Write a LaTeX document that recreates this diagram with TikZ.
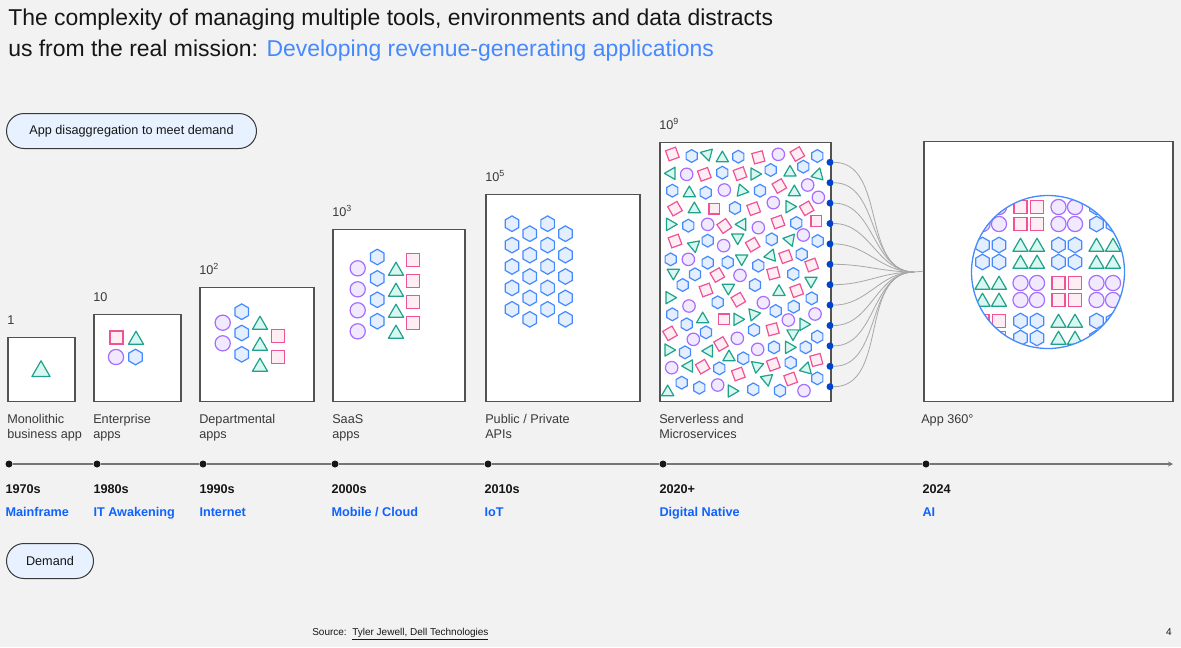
\documentclass[tikz,border=0pt]{standalone}
\usepackage{fontspec}
\setmainfont{Liberation Sans}
\usetikzlibrary{arrows.meta, positioning}

\newdimen\pxu \pxu=0.75pt

\definecolor{pagebg}{HTML}{F2F2F2}
\definecolor{ink}{HTML}{161616}
\definecolor{textgray}{HTML}{393939}
\definecolor{framegray}{HTML}{525252}
\definecolor{pillfill}{HTML}{E8F1FF}
\definecolor{headblue}{HTML}{4589FF}
\definecolor{erablue}{HTML}{0F62FE}
\definecolor{portblue}{HTML}{0043CE}
\definecolor{wiregray}{HTML}{A8A8A8}
\definecolor{tealline}{HTML}{1FA18C}
\definecolor{tealfill}{HTML}{D9F7F1}
\definecolor{pinkline}{HTML}{EE5396}
\definecolor{pinkfill}{HTML}{FFEDF4}
\definecolor{violetline}{HTML}{A56EFF}
\definecolor{violetfill}{HTML}{F1EAFF}
\definecolor{hexline}{HTML}{4589FF}
\definecolor{hexfill}{HTML}{E3EEFF}

% app icons
\tikzset{
  tr/.pic={\draw[draw=tealline, fill=tealfill, line width=1.2\pxu, line join=round] (0,-6.8) -- (7.5,6.2) -- (-7.5,6.2) -- cycle;},
  sq/.pic={\draw[draw=pinkline, fill=pinkfill, line width=1.2\pxu] (-6.5,-6.5) rectangle (6.5,6.5);},
  ci/.pic={\draw[draw=violetline, fill=violetfill, line width=1.2\pxu] (0,0) circle (7.6);},
  hx/.pic={\draw[draw=hexline, fill=hexfill, line width=1.2\pxu] (90:7.8) -- (150:7.8) -- (210:7.8) -- (270:7.8) -- (330:7.8) -- (30:7.8) -- cycle;}
}

\begin{document}
\begin{tikzpicture}[
    x=0.75pt, y=-0.75pt,
    appbox/.style={rectangle, draw=framegray, line width=1.5\pxu, fill=white, inner sep=0pt, anchor=south west},
    pill/.style={rectangle, rounded corners=17.5\pxu, draw=textgray, line width=1\pxu, fill=pillfill, minimum height=35\pxu, font=\fontsize{9.5}{11}\selectfont, text=ink, anchor=north west},
    count/.style={anchor=south west, inner sep=0pt, font=\fontsize{9.5}{11}\selectfont, text=textgray},
    caption/.style={anchor=north west, inner sep=0pt, align=left, font=\fontsize{9.5}{11.25}\selectfont, text=textgray},
    tick/.style={circle, fill=ink, inner sep=0pt, minimum size=7\pxu},
    port/.style={circle, fill=portblue, inner sep=0pt, minimum size=7\pxu},
    year/.style={anchor=base west, inner sep=0pt, font=\fontsize{9.5}{11}\selectfont\bfseries, text=ink},
    era/.style={anchor=base west, inner sep=0pt, font=\fontsize{9.5}{11}\selectfont\bfseries, text=erablue},
    axis/.style={draw=framegray!80, line width=1.5\pxu},
    wire/.style={draw=wiregray, line width=0.8\pxu},
    swarm/.style={scale=0.82}
]
\fill[pagebg] (0,0) rectangle (1181,647);
\useasboundingbox (0,0) rectangle (1181,647);

\node[anchor=north west, inner sep=0pt, align=left, font=\fontsize{17.2}{23.25}\selectfont, text=ink] (title) at (8,9)
  {The complexity of managing multiple tools, environments and data distracts\\us from the real mission: \textcolor{headblue}{Developing revenue-generating applications}};

\node[pill, minimum width=250\pxu] (disagg) at (6,113) {App disaggregation to meet demand};
\node[pill, minimum width=87\pxu] (demand) at (6,543) {Demand};

% boxes
\node[appbox, minimum width=67\pxu, minimum height=64\pxu] (mono) at (7,402) {};
\node[appbox, minimum width=87\pxu, minimum height=87\pxu] (ent) at (93,402) {};
\node[appbox, minimum width=114\pxu, minimum height=114\pxu] (dept) at (199,402) {};
\node[appbox, minimum width=132\pxu, minimum height=172\pxu] (saas) at (332,402) {};
\node[appbox, minimum width=154\pxu, minimum height=207\pxu] (apis) at (485,402) {};
\node[appbox, minimum width=171\pxu, minimum height=259\pxu] (svls) at (659,402) {};
\node[appbox, minimum width=249\pxu, minimum height=260\pxu] (app360) at (923,402) {};

\node[count] (n1) at ([yshift=12\pxu]mono.north west) {1};
\node[count] (n2) at ([yshift=12\pxu]ent.north west) {10};
\node[count] (n3) at ([yshift=12\pxu]dept.north west) {10\textsuperscript{2}};
\node[count] (n4) at ([yshift=12\pxu]saas.north west) {10\textsuperscript{3}};
\node[count] (n5) at ([yshift=12\pxu]apis.north west) {10\textsuperscript{5}};
\node[count] (n6) at ([yshift=12\pxu]svls.north west) {10\textsuperscript{9}};

\node[caption] (c1) at ([yshift=-12\pxu]mono.south west) {Monolithic\\business app};
\node[caption] (c2) at ([yshift=-12\pxu]ent.south west) {Enterprise\\apps};
\node[caption] (c3) at ([yshift=-12\pxu]dept.south west) {Departmental\\apps};
\node[caption] (c4) at ([yshift=-12\pxu]saas.south west) {SaaS\\apps};
\node[caption] (c5) at ([yshift=-12\pxu]apis.south west) {Public / Private\\APIs};
\node[caption] (c6) at ([yshift=-12\pxu]svls.south west) {Serverless and\\Microservices};
\node[caption] (c7) at ([yshift=-12\pxu,xshift=-2\pxu]app360.south west) {App 360°};

% icons
\pic[scale=1.2] at (41,369) {tr};
\pic at (116.5,337.5) {sq};
\pic at (136,338) {tr};
\pic at (116,357) {ci};
\pic at (135.5,357) {hx};

\foreach \b in {322.7,343.3} \pic at (222.7,\b) {ci};
\foreach \b in {311.7,333,354.3} \pic at (241.7,\b) {hx};
\foreach \b in {323,344,365} \pic at (260,\b) {tr};
\foreach \b in {336,356.7} \pic at (277.7,\b) {sq};

\foreach \k in {0,...,3} {
  \pic at (357.7,{268.3+21*\k}) {ci};
  \pic at (377.3,{257+21.4*\k}) {hx};
  \pic at (396,{269+21*\k}) {tr};
  \pic at (413.3,{260+21*\k}) {sq};
}

\foreach \c in {0,...,3}
  \foreach \k in {0,...,4}
    \pic at ({512+17.8*\c},{223.7+10*mod(\c,2)+21.4*\k}) {hx};

% serverless: scattered icons
\foreach \a/\b/\r in {52/132/20, 310/142/15, 427/132/30, 148/193/20, 255/191/20, 373/228/30, 60/296/30, 178/296/0,
    296/296/20, 455/295/30, 484/333/0, 208/348/35, 369/336/20, 60/393/20, 293/404/30, 392/440/20, 470/465/20,
    187/495/30, 355/490/15, 153/540/20, 425/542/20, 250/569/30, 207/628/0, 45/670/30, 198/702/30, 353/658/15,
    484/750/15, 143/770/30, 250/792/20, 355/763/20, 407/807/20}
  \pic[swarm, rotate=\r] at ({655+\a/3},{110+\b/3}) {sq};
\foreach \a/\b in {110/138, 250/140, 487/138, 202/188, 347/180, 445/170, 52/242, 152/248, 315/242, 240/294,
    100/347, 424/339, 158/392, 350/388, 488/393, 47/448, 158/458, 218/457, 440/433, 310/467, 120/493, 415/492,
    83/525, 300/525, 188/577, 470/565, 52/613, 95/643, 362/603, 416/590, 153/667, 297/660, 487/680, 90/727,
    265/745, 357/712, 452/712, 193/775, 407/758, 80/818, 133/833, 295/838, 375/842, 487/805}
  \pic[swarm] at ({655+\a/3},{110+\b/3}) {hx};
\foreach \a/\b in {370/133, 95/193, 208/240, 458/225, 490/262, 355/278, 158/343, 310/353, 206/407, 445/375,
    100/448, 255/496, 325/578, 102/588, 400/630, 480/612, 115/688, 247/685, 308/718, 50/773, 188/825, 447/842}
  \pic[swarm] at ({655+\a/3},{110+\b/3}) {ci};
\foreach \a/\b/\r in {158/137/195, 202/140/0, 45/190/90, 303/192/-90, 405/183/0, 490/190/-15, 103/245/0,
    265/243/-100, 418/242/0, 118/293/0, 408/290/-90, 50/343/-90, 257/343/90, 113/405/70, 248/387/180,
    400/388/80, 260/450/180, 343/438/100, 55/493/180, 220/538/180, 468/517/180, 372/541/0, 48/563/-90,
    143/623/0, 252/628/-90, 300/612/-80, 410/668/60, 450/643/-90, 45/720/-90, 157/723/90, 222/737/0,
    407/712/-90, 97/768/90, 305/773/170, 455/772/-15, 38/842/0, 235/843/-90, 337/812/190}
  \pic[swarm, rotate=\r] at ({655+\a/3},{110+\b/3}) {tr};

% fan-in
\coordinate (hub) at (914,272);
\foreach \i in {1,...,12} {
  \node[port] (p\i) at (830,{162.3+(\i-1)*20.4}) {};
  \draw[wire] (p\i) to[out=0, in=180] (hub);
}
\draw[wire] (hub) -- (app360.west);

% app 360
\begin{scope}
  \clip (1048,272) circle (76.5);
  \foreach \a/\b in {982.5/207, 1058.5/207, 1020.5/283, 1096.5/283}
    \foreach \i in {0,1} \foreach \j in {0,1} \pic at ({\a+16.5*\i},{\b+17*\j}) {ci};
  \foreach \a/\b in {1020.5/207, 1058.5/283, 982.5/321}
    \foreach \i in {0,1} \foreach \j in {0,1} \pic at ({\a+16.5*\i},{\b+17*\j}) {sq};
  \foreach \a/\b in {1096.5/207, 982.5/245, 1058.5/245, 1020.5/321, 1096.5/321}
    \foreach \i in {0,1} \foreach \j in {0,1} \pic at ({\a+16.5*\i},{\b+17*\j}) {hx};
  \foreach \a/\b in {1020.5/245, 1096.5/245, 982.5/283, 1058.5/321}
    \foreach \i in {0,1} \foreach \j in {0,1} \pic at ({\a+16.5*\i},{\b+17*\j}) {tr};
\end{scope}
\node[circle, draw=hexline, line width=1.3\pxu, minimum size=153\pxu, inner sep=0pt] (sphere) at (1048,272) {};

% timeline
\node[tick] (t1) at (9,464) {};
\node[tick] (t2) at (97,464) {};
\node[tick] (t3) at (203,464) {};
\node[tick] (t4) at (335,464) {};
\node[tick] (t5) at (488,464) {};
\node[tick] (t6) at (663,464) {};
\node[tick] (t7) at (926,464) {};
\coordinate (tend) at (1173,464);
\draw[axis, -{Stealth[length=3.75pt, width=3.75pt]}] (t1) -- (t2) -- (t3) -- (t4) -- (t5) -- (t6) -- (t7) -- (tend);

\node[year] (y1) at ([yshift=-29.5\pxu]t1.west) {1970s};
\node[year] (y2) at ([yshift=-29.5\pxu]t2.west) {1980s};
\node[year] (y3) at ([yshift=-29.5\pxu]t3.west) {1990s};
\node[year] (y4) at ([yshift=-29.5\pxu]t4.west) {2000s};
\node[year] (y5) at ([yshift=-29.5\pxu]t5.west) {2010s};
\node[year] (y6) at ([yshift=-29.5\pxu]t6.west) {2020+};
\node[year] (y7) at ([yshift=-29.5\pxu]t7.west) {2024};

\node[era] (e1) at ([yshift=-23\pxu]y1.base west) {Mainframe};
\node[era] (e2) at ([yshift=-23\pxu]y2.base west) {IT Awakening};
\node[era] (e3) at ([yshift=-23\pxu]y3.base west) {Internet};
\node[era] (e4) at ([yshift=-23\pxu]y4.base west) {Mobile / Cloud};
\node[era] (e5) at ([yshift=-23\pxu]y5.base west) {IoT};
\node[era] (e6) at ([yshift=-23\pxu]y6.base west) {Digital Native};
\node[era] (e7) at ([yshift=-23\pxu]y7.base west) {AI};

% footer
\node[anchor=base west, inner sep=0pt, font=\fontsize{7.5}{9}\selectfont, text=ink] (source) at (312,635) {Source:\ \ \underline{Tyler Jewell, Dell Technologies}};
\node[anchor=base east, inner sep=0pt, font=\fontsize{7.5}{9}\selectfont, text=ink] (page) at (1172,635) {4};
\end{tikzpicture}
\end{document}
